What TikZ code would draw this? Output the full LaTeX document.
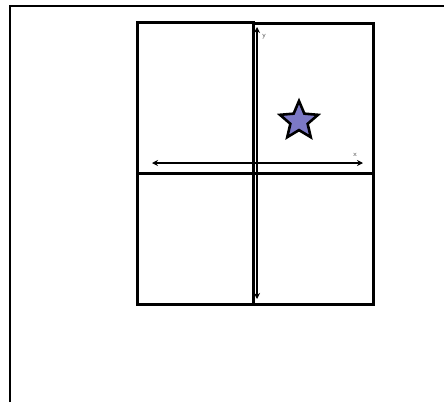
\documentclass[tikz,border=0pt]{standalone}
\usetikzlibrary{shapes.geometric,arrows.meta}
\definecolor{starfill}{HTML}{7C79C6}
\tikzset{
  quad/.style={draw=black,line width=2.6pt,inner sep=0pt,anchor=north west},
  axis/.style={draw=black,line width=2.2pt,{Stealth[length=6pt,width=6pt]}-{Stealth[length=6pt,width=6pt]}},
  lab/.style={font=\fontsize{7}{8}\selectfont\sffamily,text=black!75,inner sep=0pt},
  frame/.style={draw=black,line width=2pt}
}
\begin{document}
\begin{tikzpicture}[x=1pt,y=-1pt]
\useasboundingbox (0,0) rectangle (444,402);
\fill[white] (0,0) rectangle (444,402);
\coordinate (fbl) at (10,402);
\coordinate (ftl) at (10,6);
\coordinate (ftr) at (444,6);
\draw[frame] (fbl) -- (ftl) -- (ftr);
\node[quad,minimum width=116pt,minimum height=151pt] (q2) at (136,21) {};
\node[quad,minimum width=120pt,minimum height=150pt] (q1) at (252,22) {};
\node[quad,minimum width=116pt,minimum height=131pt] (q3) at (136,172) {};
\node[quad,minimum width=120pt,minimum height=131pt] (q4) at (252,172) {};
\coordinate (ytop) at (257,27);
\coordinate (ybot) at (257,299);
\coordinate (xl) at (152,163);
\coordinate (xr) at (363,163);
\draw[axis] (ybot) -- (ytop);
\draw[axis] (xl) -- (xr);
\node[lab] (ylab) at (264,37) {y};
\node[lab] (xlab) at (355,155) {x};
\node[star,star points=5,star point ratio=2.2,draw=black,line width=2.6pt,fill=starfill,minimum size=40pt,inner sep=0pt] (st) at (299,121) {};
\end{tikzpicture}
\end{document}
